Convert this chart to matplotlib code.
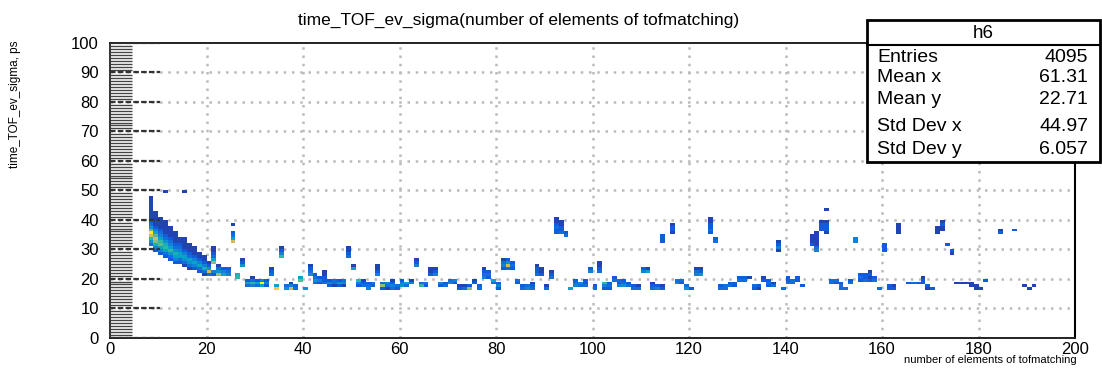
import numpy as np
import matplotlib
matplotlib.use("Agg")
import matplotlib.pyplot as plt
from matplotlib.colors import LinearSegmentedColormap
from matplotlib.patches import Rectangle
from matplotlib.lines import Line2D

# filled bins given as column runs: (bin x, first bin y, entries going up in y)
band_runs = [
    (8, 31, [3, 5, 8, 12, 16, 9, 5, 3, 2, 1, 1, 1, 1, 1, 1, 1, 1]),
    (9, 29, [2, 4, 7, 10, 12, 9, 6, 4, 2, 1, 1, 1, 1, 1]),
    (10, 28, [2, 4, 6, 9, 8, 6, 4, 3, 2, 1, 1, 1, 1]),
    (11, 27, [2, 3, 6, 8, 7, 5, 3, 2, 1, 1, 1, 1, 1]),
    (12, 26, [2, 3, 5, 8, 6, 4, 3, 2, 1, 1, 1, 1]),
    (13, 25, [2, 4, 6, 7, 5, 3, 2, 1, 1, 1, 1]),
    (14, 25, [2, 3, 6, 6, 4, 3, 2, 1, 1]),
    (15, 24, [1, 3, 5, 6, 4, 2, 1, 1, 1, 1]),
    (16, 23, [1, 3, 5, 6, 3, 2, 1, 1, 1]),
    (17, 23, [2, 4, 6, 4, 2, 1, 1, 1]),
    (18, 22, [2, 3, 6, 4, 2, 1, 1]),
    (19, 21, [1, 3, 7, 4, 2, 1, 1]),
    (20, 21, [3, 12, 5, 2, 1]),
    (21, 21, [2, 4]),
]

low_runs = [
    (22, 21, [10, 5, 3, 1]), (23, 21, [6, 4, 2]), (24, 21, [4, 3, 2]),
    (26, 20, [8, 7]), (28, 17, [3, 6, 2]), (29, 17, [4, 8, 3, 1]),
    (30, 17, [3, 6, 2]), (31, 17, [6, 16, 4]), (32, 17, [2, 4, 2]),
    (33, 21, [3, 2, 1]), (34, 16, [14, 6]), (36, 16, [5, 3]),
    (37, 16, [12, 4, 1]), (38, 16, [3, 2]), (39, 19, [9, 6]), (40, 16, [5]),
    (41, 21, [5, 3, 2, 1]), (42, 18, [3, 5, 3, 2]), (43, 18, [2, 4, 2]),
    (44, 18, [3, 2, 2, 1, 1]), (45, 17, [2, 4, 2]), (46, 17, [1, 3, 3]),
    (47, 17, [2, 5, 2]), (48, 17, [1, 4, 3]), (50, 23, [6, 1]),
    (51, 17, [2, 4, 8]), (52, 17, [3, 2, 1]), (53, 16, [4, 3, 2]),
    (54, 17, [2, 3]), (55, 21, [4, 2, 1, 1]), (56, 16, [2, 10, 3]),
    (57, 16, [1, 3, 4]), (58, 16, [3, 4, 2, 1]), (59, 16, [2, 3]),
    (60, 17, [5, 4, 2]), (61, 17, [3, 6]), (62, 18, [4, 1]),
    (63, 24, [4, 2, 1]), (64, 17, [8, 3]), (65, 17, [2, 3]),
    (66, 21, [2, 1, 1]), (67, 21, [4, 2, 1]), (68, 17, [2, 4]),
    (69, 17, [3, 2]), (70, 18, [4, 3]), (71, 18, [2, 4]), (72, 16, [2, 1]),
    (73, 16, [3, 1]), (74, 16, [10, 2]), (75, 18, [2, 1]), (76, 16, [3, 2]),
    (77, 20, [4, 3, 2, 1]), (78, 20, [2, 3, 2]), (79, 18, [3, 6]),
    (80, 16, [2, 4, 2]), (81, 23, [2, 4, 3, 1]), (82, 23, [3, 12, 5, 2]),
    (83, 23, [2, 3, 2]), (84, 18, [2, 3]), (85, 16, [3, 2]), (86, 16, [4, 3]),
    (87, 16, [3, 2, 1]), (88, 21, [3, 2, 2, 1]), (89, 21, [2, 1, 1]),
    (90, 16, [3, 1]), (91, 20, [3, 2, 1]), (95, 16, [6]), (96, 17, [4, 3, 2]),
    (97, 17, [3, 4]), (98, 17, [3, 2, 2]), (99, 22, [4, 2]), (100, 16, [3, 2]),
    (101, 22, [3, 2, 1, 1]), (102, 16, [2, 4, 8]), (103, 16, [2, 3, 2]),
    (104, 19, [3, 2]), (105, 17, [4, 2, 3]), (106, 17, [5, 3, 2]),
    (107, 17, [3, 2]), (108, 16, [3, 2]), (109, 16, [3, 1]), (110, 22, [4, 2]),
    (111, 22, [6, 1]), (112, 16, [3, 2, 1]), (113, 16, [4, 2]), (114, 16, [2, 1]),
    (117, 18, [4, 3]), (118, 18, [2, 3]), (119, 16, [5, 3]), (120, 16, [2]),
    (121, 21, [4, 3, 1]), (122, 21, [5, 2, 1]), (126, 16, [3, 2]),
    (127, 16, [3, 3]), (128, 17, [3, 2]), (129, 17, [2, 2]), (130, 19, [3, 2]),
    (131, 19, [3, 2]), (132, 20, [1]), (133, 16, [2, 3]), (134, 16, [1, 2]),
    (135, 19, [2, 1]), (136, 17, [2, 3, 2]), (137, 17, [3, 1]), (139, 16, [3]),
    (140, 18, [3, 2, 2]), (141, 18, [3, 3]), (142, 19, [2, 2]), (143, 17, [2]),
    (149, 18, [3, 3]), (150, 18, [2, 3]), (151, 16, [3, 3, 2]), (152, 16, [3]),
    (153, 18, [3, 2]), (155, 19, [2, 3, 2]), (156, 19, [3, 2, 2]),
    (157, 19, [2, 1, 2, 1]), (158, 19, [3, 2]), (159, 16, [3]),
    (161, 16, [2, 2]), (162, 16, [2, 1]), (165, 18, [2]), (166, 18, [3]),
    (167, 18, [2]), (168, 18, [2, 2, 1]), (169, 16, [1, 2]), (170, 16, [2]),
    (175, 18, [1]), (176, 18, [1]), (177, 18, [1]), (178, 17, [1, 1]),
    (179, 16, [1, 1]), (180, 16, [1]), (181, 19, [2]), (189, 17, [1]),
    (190, 16, [1]), (191, 17, [1]),
]

high_runs = [
    (11, 49, [1]), (15, 49, [1]), (21, 25, [10, 6, 3, 2, 1, 1]),
    (25, 32, [12, 6, 3, 2]), (25, 38, [1]), (27, 24, [5, 2, 1]),
    (35, 27, [8, 4, 2, 1]), (49, 27, [3, 2, 1, 1]),
    (92, 35, [2, 2, 3, 2, 1, 1]), (93, 35, [3, 2, 2, 1, 1]), (94, 34, [3, 2]),
    (114, 32, [2, 2, 2]), (116, 35, [1, 2, 2, 1]),
    (124, 35, [2, 3, 2, 2, 1, 1]), (125, 32, [3, 2]), (138, 29, [1, 4, 2, 1]),
    (145, 31, [2, 1, 1, 1]), (146, 29, [4, 3, 1, 1, 1, 1, 1]),
    (147, 36, [2, 2, 2, 1]), (148, 35, [1, 2, 2, 2, 1]), (148, 43, [1]),
    (154, 32, [4, 4]), (160, 29, [2, 2, 2]), (163, 35, [1, 1, 1, 1]),
    (171, 35, [1, 1, 1]), (172, 36, [1, 1, 2, 1]), (173, 31, [2]),
    (174, 28, [1, 2]), (184, 35, [2, 1]), (187, 36, [2]),
]

x_ticks = [0, 20, 40, 60, 80, 100, 120, 140, 160, 180, 200]
y_ticks = [0, 10, 20, 30, 40, 50, 60, 70, 80, 90, 100]

stat_name = "h6"
stat_labels = ["Entries", "Mean x", "Mean y", "Std Dev x", "Std Dev y"]
stat_values = ["4095", "61.31", "22.71", "44.97", "6.057"]

# ROOT kBird palette
bird = LinearSegmentedColormap.from_list("bird", [
    (0.2082, 0.1664, 0.5293), (0.0592, 0.3599, 0.8684),
    (0.0780, 0.5041, 0.8385), (0.0232, 0.6419, 0.7914),
    (0.1802, 0.7178, 0.6425), (0.5301, 0.7492, 0.4662),
    (0.8186, 0.7328, 0.3499), (0.9956, 0.7862, 0.1968),
    (0.9764, 0.9832, 0.0539)])

W, H = 1102, 369
plt.rcParams["font.family"] = ["Liberation Sans", "DejaVu Sans"]


def px(x, y):
    return x / W, 1 - y / H


hist = np.zeros((100, 200))
for runs in (band_runs, low_runs, high_runs):
    for bx, by, counts in runs:
        for k, n in enumerate(counts):
            hist[by + k, bx] += n

fig = plt.figure(figsize=(W / 100, H / 100), dpi=100)
ax = fig.add_axes([110 / W, 1 - 337.5 / H, 965 / W, 294.5 / H])

ax.pcolormesh(np.arange(201), np.arange(101), np.ma.masked_equal(hist, 0),
              cmap=bird, vmin=0, vmax=16, zorder=3)

ax.set_xlim(0, 200)
ax.set_ylim(0, 100)
ax.set_xticks(x_ticks)
ax.set_yticks(y_ticks)
ax.set_xticklabels([str(v) for v in x_ticks], fontsize=12)
ax.set_yticklabels([str(v) for v in y_ticks], fontsize=12)
ax.set_yticks(np.arange(0, 101, 1), minor=True)
ax.tick_params(axis="y", which="major", length=0, pad=8)
ax.tick_params(axis="y", which="minor", length=16, width=1.0,
               color="#444444", direction="in")
ax.tick_params(axis="x", which="major", length=0, pad=3)

# dotted grid
for v in x_ticks[1:]:
    ax.axvline(v, color="#bbbbbb", lw=1.8, ls=(0, (1, 2.3)), zorder=1)
for v in y_ticks[1:-1]:
    ax.axhline(v, color="#bbbbbb", lw=1.8, ls=(0, (1, 2.3)), zorder=1)
# dashed major ticks on the y axis
for v in y_ticks:
    ax.add_line(Line2D([0, 10.4], [v, v], color="#333333", lw=1.6,
                       ls=(0, (2.5, 1)), zorder=4))

for side in ("top", "bottom"):
    ax.spines[side].set_linestyle((0, (2, 1)))
    ax.spines[side].set_color("#222222")
    ax.spines[side].set_linewidth(1.4)
ax.spines["left"].set_color("#333333")
ax.spines["left"].set_linewidth(1.4)
ax.spines["right"].set_color("black")
ax.spines["right"].set_linewidth(1.5)

fig.text(*px(519, 20), "time_TOF_ev_sigma(number of elements of tofmatching)",
         ha="center", va="center", fontsize=12.5)
fig.text(*px(15, 40), "time_TOF_ev_sigma, ps", rotation=90,
         ha="center", va="top", fontsize=8.5)
fig.text(*px(1077, 360), "number of elements of tofmatching",
         ha="right", va="center", fontsize=8)

# statistics box
box = Rectangle(px(867, 162), 233 / W, 142 / H, transform=fig.transFigure,
                facecolor="white", edgecolor="black", lw=2, zorder=5)
fig.patches.append(box)
fig.add_artist(Line2D([867 / W, 1100 / W], [1 - 45 / H, 1 - 45 / H],
                      transform=fig.transFigure, color="black", lw=1.5,
                      zorder=6))
fig.text(*px(983, 33), stat_name, ha="center", va="center",
         fontsize=13.5, zorder=7)
row_y = [57, 78, 100, 126, 150]
for label, value, ry in zip(stat_labels, stat_values, row_y):
    fig.text(*px(877, ry), label, ha="left", va="center", fontsize=14,
             zorder=7)
    fig.text(*px(1088, ry), value, ha="right", va="center", fontsize=14,
             zorder=7)

fig.savefig("out.png", dpi=100)
